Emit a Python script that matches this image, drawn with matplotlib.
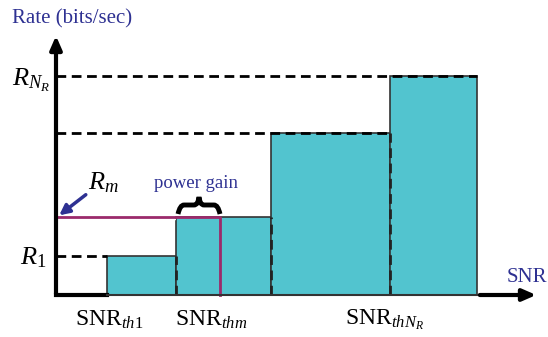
import matplotlib
matplotlib.use("Agg")
import matplotlib.pyplot as plt
from matplotlib.patches import Rectangle, PathPatch
from matplotlib.path import Path

plt.rcParams['font.family'] = ['Liberation Serif', 'DejaVu Serif']
plt.rcParams['mathtext.fontset'] = 'custom'
plt.rcParams['mathtext.rm'] = 'Liberation Serif'
plt.rcParams['mathtext.it'] = 'Liberation Serif:italic'

# step edges along the SNR axis and the rate of each step
snr_edges = [51, 120, 215, 334, 421]
rates = [39, 78, 162, 219]
gain_snr = 164          # where the magenta line drops (SNR_thm + power gain)
tick_labels = [r'$\mathrm{SNR}_{th\mathrm{1}}$', r'$\mathrm{SNR}_{thm}$', r'$\mathrm{SNR}_{thN_R}$']
tick_pos = [snr_edges[0], snr_edges[1], snr_edges[3]]
rate_labels = [r'$R_{1}$', r'$R_{N_R}$']

bar_col = '#52c4cf'
navy = '#2e3192'
mag = '#9b2a6b'

fig = plt.figure(figsize=(5.48, 3.37), dpi=100)
ax = fig.add_axes([0, 0, 1, 1])
ax.set_xlim(-56, 492)
ax.set_ylim(-42, 295)
ax.axis('off')

# bars
for i, r in enumerate(rates):
    ax.add_patch(Rectangle((snr_edges[i], 0), snr_edges[i + 1] - snr_edges[i], r,
                           facecolor=bar_col, edgecolor='#333333', lw=1.2, zorder=2))

# horizontal dashed guide lines from the rate axis
for i, r in enumerate(rates):
    if i == 1:
        continue
    ax.plot([0, snr_edges[i + 1 if i >= 2 else i]], [r, r], color='black', lw=2,
            ls=(0, (3.5, 2)), zorder=3)
ax.plot([0, snr_edges[1]], [rates[1] - 1.5, rates[1] - 1.5], color='white', lw=1,
        ls=(0, (3.5, 2)), zorder=4)

# vertical dashed lines at step boundaries
for i in range(1, 4):
    ax.plot([snr_edges[i], snr_edges[i]], [0, min(rates[i - 1], rates[i])], color='#222222',
            lw=2, ls=(0, (3.5, 2)), zorder=3)

# magenta R_m line
ax.plot([0, gain_snr, gain_snr], [rates[1], rates[1], 0], color=mag, lw=2, zorder=5)

# axes with arrows
ax.plot([0, snr_edges[0]], [0, 0], color='black', lw=3, zorder=6)
ax.annotate('', xy=(483, 0), xytext=(snr_edges[-1], 0),
            arrowprops=dict(arrowstyle='-|>,head_length=0.8,head_width=0.35', color='black', lw=3),
            zorder=6)
ax.plot([snr_edges[0], snr_edges[-1]], [0, 0], color='#333333', lw=1.5, zorder=6)
ax.annotate('', xy=(0, 262), xytext=(0, -1.5),
            arrowprops=dict(arrowstyle='-|>,head_length=0.8,head_width=0.35', color='black', lw=3),
            zorder=6)

# brace for power gain
x0, x1 = snr_edges[1] + 2, gain_snr
xc = (x0 + x1) / 2
yb = 88
verts = [(x0, yb - 7), (x0 + 2, yb + 2), (x0 + 6, yb + 2),
         (xc - 5, yb + 2), (xc - 1, yb + 2), (xc, yb + 10),
         (xc + 1, yb + 2), (xc + 5, yb + 2),
         (x1 - 6, yb + 2), (x1 - 2, yb + 2), (x1, yb - 7)]
codes = [Path.MOVETO, Path.CURVE3, Path.CURVE3,
         Path.LINETO, Path.CURVE3, Path.CURVE3,
         Path.CURVE3, Path.CURVE3,
         Path.LINETO, Path.CURVE3, Path.CURVE3]
ax.add_patch(PathPatch(Path(verts, codes), facecolor='none', edgecolor='black', lw=3.5,
                       capstyle='butt', zorder=7))
ax.text(xc - 3, 112, 'power gain', color=navy, fontsize=13.5, ha='center', va='center')

# R_m arrow and label
ax.annotate('', xy=(1, rates[1]), xytext=(32, 102),
            arrowprops=dict(arrowstyle='-|>,head_length=0.6,head_width=0.3', color=navy, lw=2.5),
            zorder=8)
ax.text(32, 112, r'$R_m$', fontsize=19, ha='left', va='center')

# rate labels
ax.text(-36, 37, rate_labels[0], fontsize=19, ha='left', va='center')
ax.text(-44, 215, rate_labels[1], fontsize=19, ha='left', va='center')

# tick labels under SNR axis (hand placed, as in the drawing)
label_offsets = [-32, -1, -45]
for p, t, o in zip(tick_pos, tick_labels, label_offsets):
    ax.text(p + o, -25, t, fontsize=17, ha='left', va='center')

ax.text(-44, 276, 'Rate (bits/sec)', color=navy, fontsize=15, ha='left', va='center')
ax.text(471, 17, 'SNR', color=navy, fontsize=15, ha='center', va='center')

fig.savefig('out.png', dpi=100)
